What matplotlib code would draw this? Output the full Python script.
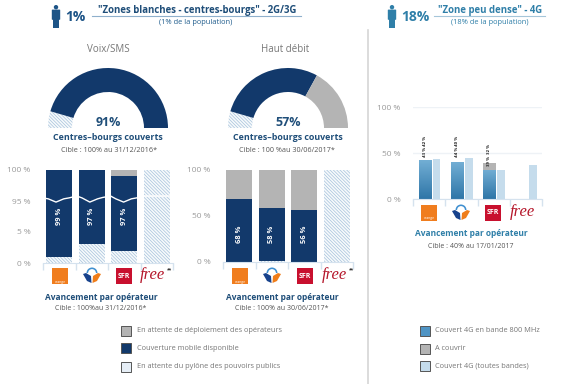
# -*- coding: utf-8 -*-
"""Couverture mobile: zones blanches / zone peu dense, by operator."""

import numpy as np
import matplotlib
matplotlib.use('Agg')
import matplotlib.pyplot as plt
from matplotlib.colors import LinearSegmentedColormap
from matplotlib.patches import Circle, FancyBboxPatch, Polygon, Rectangle, Wedge

W, H = 579, 384

NAVY = '#12396b'
GREY = '#b4b4b4'
HATCH = '#a6c2db'
HATCH_BG = '#f7fafc'
BLUE = '#4f94c4'
PALE = '#c5dcec'
TICK = '#d5e2ee'
DENSE = '\\' * 10

# %% Data
operators = ['Orange', 'Bouygues', 'SFR', 'Free']

voix_arc = [9, 91, 0]
debit_arc = [9, 57, 34]

voix_attente = [1, 3, 2, 100]
voix_couvert = [99, 97, 97, 0]
voix_deploiement = [0, 0, 1, 0]
voix_labels = ['99 %', '97 %', '97 %', '']

debit_attente = [0, 1, 0, 100]
debit_couvert = [68, 58, 56, 0]
debit_deploiement = [32, 41, 44, 0]
debit_labels = ['68 %', '58 %', '56 %', '']

dense_800 = [42, 40, 32, 0]
dense_a_couvrir = [0, 0, 7, 0]
dense_toutes = [43, 44.5, 31, 37]
dense_labels_top = ['42 %', '40 %', '32 %']
dense_labels_low = ['43 %', '44 %', '39 %']

legend_left = ['En attente de déploiement des opérateurs',
               'Couverture mobile disponible',
               'En attente du pylône des pouvoirs publics']
legend_right = ['Couvert 4G en bande 800 MHz', 'A couvrir', 'Couvert 4G (toutes bandes)']


# %% Helpers
def px_axes(x0, y0, x1, y1):
    """Axes from pixel box, y counted from the top of the picture"""
    return fig.add_axes([x0/W, 1-y1/H, (x1-x0)/W, (y1-y0)/H])


def ftext(x, y, s, size, color='#555555', **kw):
    kw.setdefault('ha', 'center')
    kw.setdefault('va', 'center')
    return bg.text(x, y, s, fontsize=size, color=color, **kw)


def person(x, top, height, color):
    u = height/23
    bg.add_patch(Circle((x, top+2.2*u), 2.2*u, fc=color, ec='none'))
    bg.add_patch(FancyBboxPatch((x-3.6*u, top+5.2*u), 7.2*u, 9*u, boxstyle='round,pad=0.6',
                                fc=color, ec='none'))
    bg.add_patch(Rectangle((x-2.8*u, top+13*u), 5.6*u, 10*u, fc=color, ec='none'))


def logos(x_centres, y, note='**'):
    x = x_centres
    # orange
    bg.add_patch(Rectangle((x[0]-8, y-8), 16, 16, fc='#f07d1e', ec='none'))
    ftext(x[0], y+5.5, 'orange', 2.4, 'white')
    # bouygues
    bg.add_patch(Wedge((x[1], y-3), 5.5, 180, 360, width=1.6, fc='#3f8fd0', ec='none'))
    bg.add_patch(Polygon([(x[1]-9, y-2), (x[1]-6, y-3), (x[1]-1, y), (x[1]-0.5, y+7),
                          (x[1]-5, y+5)], fc='#17428c', ec='none'))
    bg.add_patch(Polygon([(x[1]+9, y-2), (x[1]+6, y-3), (x[1]+1, y), (x[1]+0.5, y+7),
                          (x[1]+5, y+5)], fc='#ef7d1a', ec='none'))
    # sfr
    bg.add_patch(Rectangle((x[2]-8, y-8), 16, 16, fc='#c8102e', ec='none'))
    ftext(x[2], y, 'SFR', 5, 'white', fontweight='bold')
    # free
    ftext(x[3]-3, y-1, 'free', 12, '#b5172b', family='Liberation Serif', style='italic')
    if note:
        ftext(x[3]+14, y-6, note, 3.4, '#333333', fontweight='bold')


def bar_axes(box, fwd_inv, ticks, ticklabels):
    ax = px_axes(*box)
    if fwd_inv is not None:
        ax.set_yscale('function', functions=fwd_inv)
    ax.set_xlim(-0.5, 3.5)
    ax.set_ylim(0, 100)
    ax.set_yticks(ticks)
    ax.set_yticks([], minor=True)
    ax.set_yticklabels(ticklabels, fontsize=6, color='#9a9a9a')
    ax.set_xticks(np.arange(-0.5, 4))
    ax.set_xticklabels([])
    ax.tick_params(axis='y', length=0, pad=9)
    ax.tick_params(axis='x', length=5, color=TICK, width=1)
    for s in ['top', 'left', 'right']:
        ax.spines[s].set_visible(False)
    ax.spines['bottom'].set_color(TICK)
    ax.patch.set_alpha(0)
    return ax


def stacked(ax, attente, couvert, deploiement, labels, y_label):
    x = np.arange(4)
    attente = np.array(attente, float)
    couvert = np.array(couvert, float)
    ax.bar(x, attente, 0.8, fc=HATCH_BG, ec=HATCH, hatch=DENSE, lw=0)
    ax.bar(x, couvert, 0.8, bottom=attente, fc=NAVY, ec='none')
    ax.bar(x, deploiement, 0.8, bottom=attente+couvert, fc=GREY, ec='none')
    for i, s in enumerate(labels):
        ax.text(i, y_label, s, rotation=90, color='white', fontsize=5.4, fontweight='bold',
                ha='center', va='center')


def arc(cx, cy, values):
    r = 60
    ax = px_axes(cx-r, cy-r, cx+r, cy+r)
    ax.axis('off')
    colors = [HATCH_BG, NAVY, GREY, 'none']
    wedges, _ = ax.pie(list(values)+[sum(values)], radius=r, startangle=180, counterclock=False,
                       colors=colors, wedgeprops={'width': 24, 'lw': 0})
    wedges[0].set_hatch(DENSE)
    wedges[0].set_edgecolor(HATCH)
    ax.set_xlim(-r, r)
    ax.set_ylim(-r, r)


# %% Figure
plt.rcParams['font.family'] = ['Open Sans', 'DejaVu Sans']
plt.rcParams['hatch.linewidth'] = 0.5
fig = plt.figure(figsize=(W/100, H/100), dpi=100)
bg = fig.add_axes([0, 0, 1, 1])
bg.set_xlim(0, W)
bg.set_ylim(H, 0)
bg.axis('off')

# Headers
person(56, 5, 23, '#1d5487')
ftext(65, 17, '1%', 10, '#1d5487', ha='left', fontweight='bold')
ftext(197, 11, '"Zones blanches - centres-bourgs" - 2G/3G', 6.9, '#1f4e79', fontweight='bold')
bg.plot([92, 301], [15.5, 15.5], color='#8fb0cc', lw=0.8)
ftext(196, 23, '(1% de la population)', 5.4, '#1f5c8c')

person(392, 5, 23, '#2f7fa8')
ftext(401, 17, '18%', 10, '#2f7fa8', ha='left', fontweight='bold')
ftext(490, 11, '"Zone peu dense" - 4G', 6.9, '#2f7fa8', fontweight='bold')
bg.plot([434, 545], [15.5, 15.5], color='#a5c6da', lw=0.8)
ftext(490, 23, '(18% de la population)', 5.4, '#2f7fa8')

bg.plot([368, 368], [30, H], color='#d6d6d6', lw=1.2)

# Gauges
ftext(108, 50, 'Voix/SMS', 7, '#777777')
ftext(285, 50, 'Haut débit', 7, '#777777')
arc(108, 128, voix_arc)
arc(288, 128, debit_arc)
ftext(108, 122, '91%', 9, '#1f4e79', fontweight='bold')
ftext(288, 122, '57%', 9, '#1f4e79', fontweight='bold')
ftext(108, 138, 'Centres\u2013bourgs couverts', 6.4, '#1f4e79', fontweight='bold')
ftext(288, 138, 'Centres\u2013bourgs couverts', 6.4, '#1f4e79', fontweight='bold')
ftext(109, 150, 'Cible : 100% au 31/12/2016*', 5.2, '#555555')
ftext(287, 150, 'Cible : 100 %au 30/06/2017*', 5.2, '#555555')

# Voix/SMS bars, vertical axis is cut between 5 and 95
broken = (lambda v: np.interp(v, [0, 5, 95, 100], [0, 1, 2, 3]),
          lambda v: np.interp(v, [0, 1, 2, 3], [0, 5, 95, 100]))
ax1 = bar_axes((43, 170, 173, 263), broken, [0, 5, 95, 100], ['0 %', '5 %', '95 %', '100 %'])
stacked(ax1, voix_attente, voix_couvert, voix_deploiement, voix_labels, 50)
zig_x = [0, .04, .1, .16, .2, .26, .3, .36, .42, .46, .52, .56, .62, .68, .72, .78, 1]
zig_y = [.7, .69, .655, .69, .7, .72, .7, .655, .69, .705, .72, .69, .655, .69, .7, .72, .72]
ax1.plot(zig_x, zig_y, color='white', lw=1, transform=ax1.transAxes)

# Haut debit bars
ax2 = bar_axes((223, 170, 353, 262), None, [0, 50, 100], ['0 %', '50 %', '100 %'])
stacked(ax2, debit_attente, debit_couvert, debit_deploiement, debit_labels, 30)

for cx, dates in [(101, 'Cible : 100%au 31/12/2016*'), (282, 'Cible : 100% au 30/06/2017*')]:
    ftext(cx, 297, 'Avancement par opérateur', 6, '#1f4e79', fontweight='bold')
    ftext(cx, 308, dates, 5, '#555555')
logos([60, 92, 124, 155], 276)
logos([240, 272, 305, 337], 276)

# Zone peu dense bars
ax3 = bar_axes((413, 107, 542, 199), None, [0, 50, 100], ['0 %', '50 %', '100 %'])
ax3.yaxis.grid(True, color='#eef2f6', lw=1)
ax3.set_axisbelow(True)
x = np.arange(4)
grad = LinearSegmentedColormap.from_list('bar', ['#2f76a8', '#72aed4'])
ramp = np.linspace(0, 1, 50).reshape(-1, 1)
for i in range(3):
    ax3.imshow(ramp, extent=[i-0.32, i+0.06, 0, dense_800[i]], origin='lower', aspect='auto',
               cmap=grad, zorder=2)
ax3.set_xlim(-0.5, 3.5)
ax3.set_ylim(0, 100)
ax3.bar(x-0.13, dense_a_couvrir, 0.38, bottom=dense_800, fc=GREY, ec='none', zorder=2)
ax3.bar(x+0.23, dense_toutes, 0.24, fc=PALE, ec='none', zorder=2)
up_top = [21, 23, 15]
up_low = [9, 11, 2]
for i in range(3):
    top = dense_800[i]+dense_a_couvrir[i]
    ax3.text(i-0.13, top+up_top[i], dense_labels_top[i], rotation=90, fontsize=3.2,
             color='#222222', ha='center', va='center', fontweight='bold', zorder=3)
    ax3.text(i-0.13, top+up_low[i], dense_labels_low[i], rotation=90, fontsize=3.2,
             color='#222222', ha='center', va='center', fontweight='bold', zorder=3)
logos([429, 461, 493, 525], 213, note='')
ftext(471, 234, 'Avancement par opérateur', 6, '#2f7fa8', fontweight='bold')
ftext(471, 246, 'Cible : 40% au 17/01/2017', 5, '#555555')

# Legends
for y, s, fc in zip([331, 348, 367], legend_left, [GREY, NAVY, '#e6eef6']):
    bg.add_patch(Rectangle((121, y-5), 10, 10, fc=fc, ec='#555555', lw=0.7))
    ftext(137, y, s, 5.3, '#777777', ha='left')
for y, s, fc in zip([331, 349, 366], legend_right, [BLUE, GREY, PALE]):
    bg.add_patch(Rectangle((420, y-5), 10, 10, fc=fc, ec='#555555', lw=0.7))
    ftext(435, y, s, 5.3, '#777777', ha='left')

fig.savefig('out.png', dpi=100)
